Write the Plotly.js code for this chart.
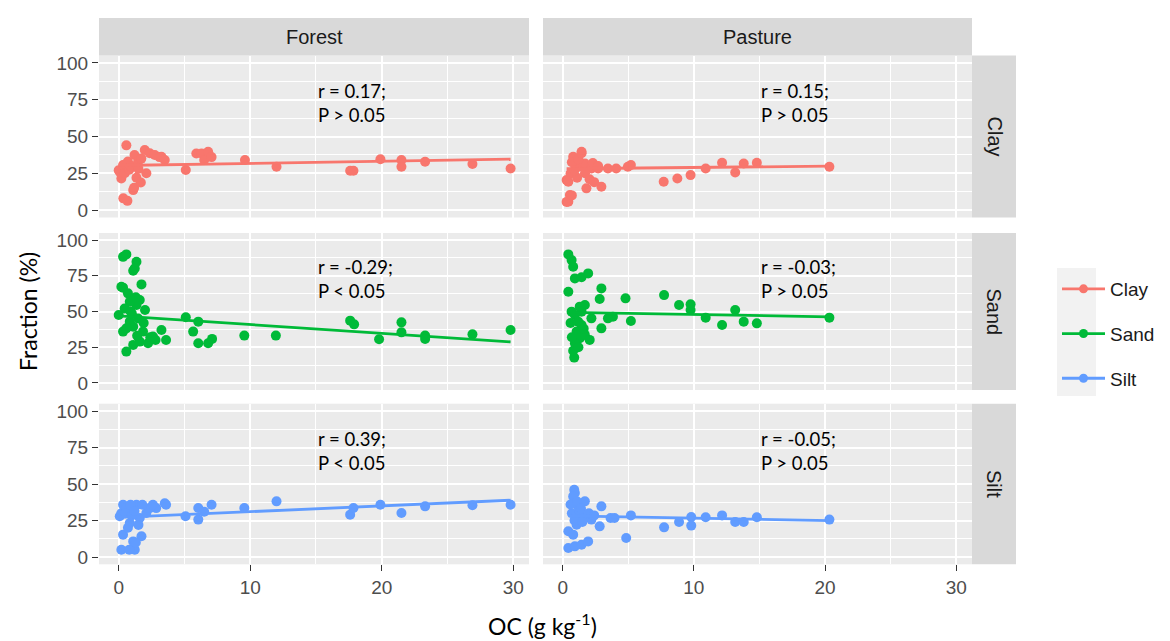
<!DOCTYPE html>
<html><head><meta charset="utf-8">
<script src="https://cdn.plot.ly/plotly-3.0.1.min.js"></script>
<style>html,body{margin:0;padding:0;background:#fff}#chart{width:1170px;height:641px}</style>
</head><body><div id="chart"></div>
<script>
// ---------- data ----------
const landUses = ['Forest', 'Pasture'];
const fractions = ['Clay', 'Sand', 'Silt'];
const fractionColors = ['#F8766D', '#00BA38', '#619CFF'];

const forestClayX = [0.0,0.08,0.2,0.33,0.35,0.46,0.5,0.58,0.66,0.7, 0.8,0.9,0.96,1.1,1.17,1.2,1.35,1.47,1.5,1.68, 1.72,1.98,2.1,2.36,2.74,3.1,3.25,3.5,5.1,5.9, 6.3,6.5,6.8,7.06,9.6,12.0,17.6,17.85,19.9,21.5, 21.5,23.3,26.9,29.8];
const forestClayY = [27,26,21.5,30.6,8,25,31,44,6.3,33, 27.5,30,29.5,13.6,15.2,37.4,22,32.9,28,18.8, 35,40.8,25,38.6,37.4,36,36.3,34,27.2,38.5, 38.5,34,39.7,36,34,29.5,26.8,26.8,34.5,34, 29.5,32.9,31.3,28.3];

const forestSandX = [0.33,0.58,1.35,1.22,1.1,1.73,0.33,0.7,1.6,2.0, 0.0,0.33,0.58,1.1,1.6,2.23,2.6,3.25,3.6,0.84, 1.1,1.35,0.84,0.45,1.0,1.47,0.58,1.85,5.1,6.05, 5.66,6.05,6.8,7.1,9.55,11.95,17.6,17.9,19.8,21.5, 21.5,23.3,23.3,26.9,29.8, 1.3,0.9,1.4,2.4,1.9,2.8,0.2];
const forestSandY = [88.3,90,84.8,80.2,78.6,69,66.7,62.7,58,51, 47.5,35.9,21.9,26.6,28.9,27.7,32.4,37,30,42.9, 39.4,54.5,56.8,52.1,48.6,45.1,38.2,35.9,46,42.9, 35.9,27.7,27.7,30.8,33.1,33.1,43.6,41,30.5,42.4, 35.4,33.1,30.8,34,37, 60,50,33,32,42,30,67.4];

const forestSiltX = [0.08,0.2,0.33,0.33,0.2,1.22,0.8,1.1,1.73,0.84, 1.6,2.1,3.6,2.85,0.58,1.35,2.36,0.9,1.8,0.5, 1.0,1.2,2.6,0.7,1.5,1.3,3.5, 5.08,6.05,6.05,7.06,6.5,9.55,12.0,17.6,17.85,19.9,21.5,23.3,26.9,29.8];
const forestSiltY = [27.9,30,35.8,15.3,5,5,5,10.7,14.2,23.3, 26.7,30.1,35.8,33.5,33.5,35.8,33.5,35.8,35.8,30, 28.5,31.5,35.8,20,22,10,36.8, 27.9,33.6,25.6,35.8,31,33.6,38.1,29,33.6,35.8,30.1,34.7,35.4,35.8];

const pastureClayX = [1.44,0.43,0.55,0.3,0.6,1.81,2.95,0.93,1.18,1.7, 2.2,2.7,3.45,4.08,4.97,5.2,7.7,8.74,9.75,10.9, 12.15,13.15,13.8,14.8,20.33, 0.8,0.7,0.43,0.3,0.7,1.1,1.7,2.3,2.7,1.2,0.9,2.05,2.4,1.44];
const pastureClayY = [39.7,5.7,10.2,20.4,24.9,14.8,15.9,34,29.5,31.7, 28.3,28.3,28.3,28.3,29.5,30.6,19.3,21.5,23.8,28.3, 32.2,25.6,31.7,32.2,29.5, 36.3,32.5,19.3,5.6,10,22,25,32,30,34.6,27,21,19,38.6];

const pastureSandX = [0.43,0.68,0.8,0.93,1.44,1.94,0.43,2.95,2.82,4.79, 7.73,8.87,9.75,9.75,10.9,12.15,13.15,13.8,14.8,20.33, 5.2,3.83,3.45,2.95,0.88,1.69,1.3,0.93,1.18,1.44, 1.06,1.31,0.93,1.69,2.06,2.19,0.68,1.44,0.8,1.2,0.7,1.6,0.6];
const pastureSandY = [90,86,81.3,73.2,74,76.7,63.8,66.2,58.7,59.2, 61.5,54.5,55,51,45.7,40.6,51,42.9,41.7,45.7, 43.4,46.4,45.2,38.2,17.7,54.5,53.4,47.6,42.9,40.6, 35.9,31.2,27.7,33.6,30.1,45.2,49.9,49.9,22.5,25,32,38,42];

const pastureSiltX = [0.88,0.93,0.8,1.69,2.95,1.18,1.06,2.82,2.19,0.43, 0.8,0.43,0.93,1.44,1.94,3.65,3.95,5.2,4.84,7.73, 8.87,9.8,9.8,10.9,12.15,13.15,13.8,14.8,20.33, 0.7,1.0,1.3,1.6,0.6,1.1,1.4,2.0,2.4,0.9,1.5];
const pastureSiltY = [46.1,43.8,41.5,38.1,34.7,34.7,22.1,21,25.6,17.6, 15.3,6.2,7.3,8.4,10.7,26.7,26.7,28.5,13,20.3, 24,27.4,21.5,27.2,28.5,24,24,27.2,25.6, 30,28,31,27,36,38,33,30,28.5,25,24];

// fitted lines (end points)
const forestClayFitX = [0, 29.8],   forestClayFitY = [30.3, 34.6];
const forestSandFitX = [0, 29.8],   forestSandFitY = [47.0, 28.7];
const forestSiltFitX = [0.08, 29.8],forestSiltFitY = [27.1, 38.9];
const pastureClayFitX = [0.3, 20.33],  pastureClayFitY = [28.1, 29.9];
const pastureSandFitX = [0.43, 20.33], pastureSandFitY = [49.4, 46.3];
const pastureSiltFitX = [0.43, 20.33], pastureSiltFitY = [28.2, 24.9];

const statLabels = [
  ['r = 0.17;<br>P &gt; 0.05', 'r = 0.15;<br>P &gt; 0.05'],
  ['r = -0.29;<br>P &lt; 0.05', 'r = -0.03;<br>P &gt; 0.05'],
  ['r = 0.39;<br>P &lt; 0.05', 'r = -0.05;<br>P &gt; 0.05']
];
const xTicks = [0, 10, 20, 30];
const yTicks = [0, 25, 50, 75, 100];

// ---------- assemble ----------
const panels = [
  [[forestClayX, forestClayY, forestClayFitX, forestClayFitY], [pastureClayX, pastureClayY, pastureClayFitX, pastureClayFitY]],
  [[forestSandX, forestSandY, forestSandFitX, forestSandFitY], [pastureSandX, pastureSandY, pastureSandFitX, pastureSandFitY]],
  [[forestSiltX, forestSiltY, forestSiltFitX, forestSiltFitY], [pastureSiltX, pastureSiltY, pastureSiltFitX, pastureSiltFitY]]
];

const W = 1170, H = 641;
const colX = [[99, 529], [543, 972]];
const rowY = [[55.5, 217.5], [233, 390], [403.7, 564.3]];
const stripTop = 18;
const stripRight = [972, 1016];

const traces = [];
const layout = {
  width: W, height: H,
  margin: {l: 0, r: 0, t: 0, b: 0},
  paper_bgcolor: '#FFFFFF',
  plot_bgcolor: '#EBEBEB',
  showlegend: true,
  font: {family: 'Liberation Sans, Arial, sans-serif', color: '#1A1A1A'},
  shapes: [], annotations: [],
  legend: {
    x: 1057 / W, y: 1 - 270 / H, xanchor: 'left', yanchor: 'top',
    bgcolor: 'rgba(0,0,0,0)', borderwidth: 0,
    font: {family: 'Liberation Sans, Arial, sans-serif', size: 19, color: '#1A1A1A'},
    traceorder: 'grouped', tracegroupgap: 17, itemwidth: 43
  }
};

for (let r = 0; r < 3; r++) {
  for (let c = 0; c < 2; c++) {
    const n = r * 2 + c + 1;
    const xa = 'x' + (n > 1 ? n : ''), ya = 'y' + (n > 1 ? n : '');
    const [px, py, fx, fy] = panels[r][c];
    const col = fractionColors[r];
    traces.push({type: 'scatter', mode: 'markers', x: px, y: py, xaxis: xa, yaxis: ya,
      marker: {color: col, size: 10, line: {width: 0}}, showlegend: false, hoverinfo: 'x+y'});
    traces.push({type: 'scatter', mode: 'lines', x: fx, y: fy, xaxis: xa, yaxis: ya,
      line: {color: col, width: 2.8}, showlegend: false, hoverinfo: 'skip'});
    layout['xaxis' + (n > 1 ? n : '')] = {
      domain: [colX[c][0] / W, colX[c][1] / W], range: [-1.5, 31.2], anchor: ya,
      tickmode: 'array', tickvals: xTicks, ticktext: xTicks.map(String),
      showgrid: true, gridcolor: '#FFFFFF', gridwidth: 1.8, zeroline: false, showline: false,
      minor: {dtick: 5, tick0: 0, showgrid: true, gridcolor: '#FFFFFF', gridwidth: 0.9, ticks: ''},
      ticks: r === 2 ? 'outside' : '', ticklen: 6, tickwidth: 1.3, tickcolor: '#333333',
      showticklabels: r === 2,
      tickfont: {family: 'Liberation Sans, Arial, sans-serif', size: 19, color: '#4D4D4D'},
      fixedrange: true
    };
    layout['yaxis' + (n > 1 ? n : '')] = {
      domain: [1 - rowY[r][1] / H, 1 - rowY[r][0] / H], range: [-5, 105], anchor: xa,
      tickmode: 'array', tickvals: yTicks, ticktext: yTicks.map(String),
      showgrid: true, gridcolor: '#FFFFFF', gridwidth: 1.8, zeroline: false, showline: false,
      minor: {dtick: 12.5, tick0: 0, showgrid: true, gridcolor: '#FFFFFF', gridwidth: 0.9, ticks: ''},
      ticks: c === 0 ? 'outside' : '', ticklen: 6, tickwidth: 1.3, tickcolor: '#333333',
      showticklabels: c === 0,
      tickfont: {family: 'Liberation Sans, Arial, sans-serif', size: 19, color: '#4D4D4D'},
      fixedrange: true
    };
    layout.annotations.push({
      xref: xa, yref: ya, x: 15, y: 72.5, xanchor: 'left', yanchor: 'middle', align: 'left',
      text: statLabels[r][c], showarrow: false,
      font: {family: 'Lato, Open Sans, sans-serif', size: 18.5, color: '#000000'}
    });
  }
}

// legend entries
fractions.forEach((f, i) => {
  traces.push({type: 'scatter', mode: 'lines+markers', x: [null], y: [null], name: f,
    legendgroup: f, line: {color: fractionColors[i], width: 2.8},
    marker: {color: fractionColors[i], size: 9}, showlegend: true, hoverinfo: 'skip'});
});

// strips (top: land use; right: fraction)
landUses.forEach((lu, c) => {
  layout.shapes.push({type: 'rect', xref: 'paper', yref: 'paper',
    x0: colX[c][0] / W, x1: colX[c][1] / W, y0: 1 - rowY[0][0] / H, y1: 1 - stripTop / H,
    fillcolor: '#D9D9D9', line: {width: 0}, layer: 'below'});
  layout.annotations.push({xref: 'paper', yref: 'paper',
    x: (colX[c][0] + colX[c][1]) / 2 / W, y: 1 - (stripTop + rowY[0][0]) / 2 / H,
    xanchor: 'center', yanchor: 'middle', text: lu, showarrow: false,
    font: {family: 'Liberation Sans, Arial, sans-serif', size: 20, color: '#1A1A1A'}});
});
fractions.forEach((f, r) => {
  layout.shapes.push({type: 'rect', xref: 'paper', yref: 'paper',
    x0: stripRight[0] / W, x1: stripRight[1] / W, y0: 1 - rowY[r][1] / H, y1: 1 - rowY[r][0] / H,
    fillcolor: '#D9D9D9', line: {width: 0}, layer: 'below'});
  layout.annotations.push({xref: 'paper', yref: 'paper',
    x: (stripRight[0] + stripRight[1]) / 2 / W, y: 1 - (rowY[r][0] + rowY[r][1]) / 2 / H,
    xanchor: 'center', yanchor: 'middle', text: f, textangle: 90, showarrow: false,
    font: {family: 'Liberation Sans, Arial, sans-serif', size: 20, color: '#1A1A1A'}});
});

// legend key background
layout.shapes.push({type: 'rect', xref: 'paper', yref: 'paper',
  x0: 1057 / W, x1: 1096 / W, y0: 1 - 396 / H, y1: 1 - 268 / H,
  fillcolor: '#F2F2F2', line: {width: 0}, layer: 'below'});

// axis titles
layout.annotations.push({xref: 'paper', yref: 'paper', x: 28 / W, y: 1 - 312 / H,
  xanchor: 'center', yanchor: 'middle', textangle: -90, text: 'Fraction (%)', showarrow: false,
  font: {family: 'Lato, Open Sans, sans-serif', size: 23, color: '#000000'}});
layout.annotations.push({xref: 'paper', yref: 'paper', x: 542 / W, y: 1 - 624 / H,
  xanchor: 'center', yanchor: 'middle', text: 'OC (g kg<sup>-1</sup>)', showarrow: false,
  font: {family: 'Lato, Open Sans, sans-serif', size: 23, color: '#000000'}});

Plotly.newPlot('chart', traces, layout, {displayModeBar: false, responsive: false, staticPlot: false});
</script></body></html>
